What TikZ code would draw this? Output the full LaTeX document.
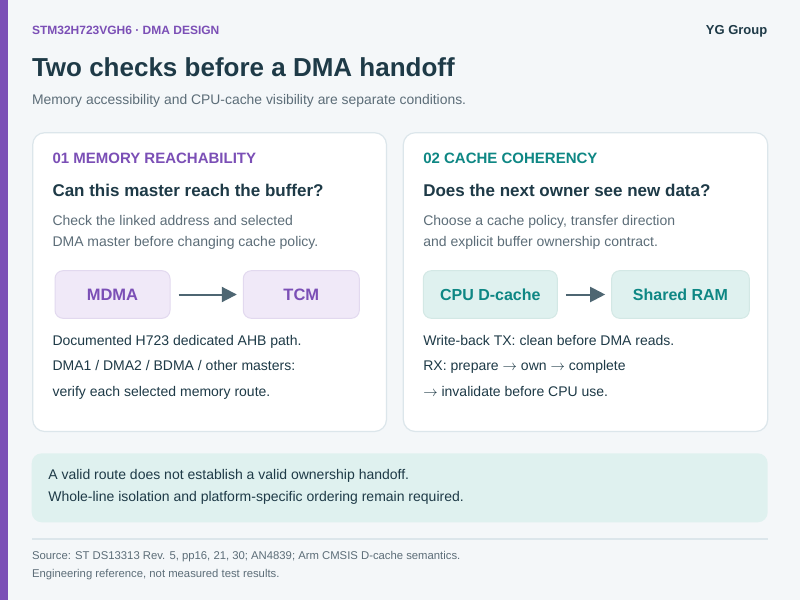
\documentclass[tikz,border=0pt]{standalone}
\usepackage{fontspec}
\setmainfont{Liberation Sans}
\usetikzlibrary{arrows.meta}
\definecolor{bgc}{HTML}{F4F7F9}
\definecolor{purp}{HTML}{7B4FB6}
\definecolor{tealc}{HTML}{0E8784}
\definecolor{darkc}{HTML}{1E3A47}
\definecolor{grayc}{HTML}{5C6D78}
\definecolor{cardline}{HTML}{DCE6EB}
\definecolor{purfill}{HTML}{F0E9F8}
\definecolor{purline}{HTML}{E2D9EF}
\definecolor{tealfill}{HTML}{DFF1EF}
\definecolor{tealline}{HTML}{D3E8E5}
\definecolor{arrowc}{HTML}{4E6672}
\newcommand{\fsz}[1]{\fontsize{#1}{#1}\selectfont}
\newcommand{\myarr}{\ensuremath{\rightarrow}}
\tikzset{
  txt/.style={anchor=base west, inner sep=0pt, outer sep=0pt},
  card/.style={fill=white, draw=cardline, line width=1.2pt, rounded corners=12pt},
  pbox/.style={fill=purfill, draw=purline, line width=1pt, rounded corners=8pt, minimum height=47.6pt, text=purp, font=\fsz{16.5}\bfseries, inner sep=0pt},
  tbox/.style={fill=tealfill, draw=tealline, line width=1pt, rounded corners=8pt, minimum height=47.6pt, text=tealc, font=\fsz{16}\bfseries, inner sep=0pt},
  flow/.style={draw=arrowc, line width=2pt, -{Triangle[length=15pt,width=15pt]}, shorten <=8pt, shorten >=6pt}
}
\begin{document}
\begin{tikzpicture}[x=1pt,y=-1pt]
\useasboundingbox (0,0) rectangle (800,600);
\fill[bgc] (0,0) rectangle (800,600);
\fill[purp] (0,0) rectangle (7.5,600);

% header
\node[txt, text=purp, font=\fsz{12}\bfseries] (kicker) at (32,34) {STM32H723VGH6 · DMA DESIGN};
\node[anchor=base east, inner sep=0pt, text=darkc, font=\fsz{13}\bfseries] (brand) at (767.5,34.5) {YG Group};
\node[txt, text=darkc, font=\fsz{26}\bfseries] (title) at (32,76) {Two checks before a DMA handoff};
\node[txt, text=grayc, font=\fsz{13.9}] (subtitle) at (32,104.3) {Memory accessibility and CPU-cache visibility are separate conditions.};

% cards
\draw[card] (32.7,132.7) rectangle (386.5,431.5);
\draw[card] (403.3,132.7) rectangle (767.7,431.5);

% card 1
\node[txt, text=purp, font=\fsz{15}\bfseries] (h1) at (52.5,163.3) {01 MEMORY REACHABILITY};
\node[txt, text=darkc, font=\fsz{17}\bfseries] (q1) at (52.5,196.7) {Can this master reach the buffer?};
\node[txt, text=grayc, font=\fsz{14}] (d1a) at (52.5,225) {Check the linked address and selected};
\node[txt, text=grayc, font=\fsz{14}] (d1b) at (52.5,246) {DMA master before changing cache policy.};
\node[pbox, minimum width=115pt] (mdma) at (112.5,294.5) {MDMA};
\node[pbox, minimum width=116pt] (tcm) at (301.3,294.5) {TCM};
\draw[flow] (mdma.east) -- (tcm.west);
\node[txt, text=darkc, font=\fsz{14}] (n1a) at (52.5,345.3) {Documented H723 dedicated AHB path.};
\node[txt, text=darkc, font=\fsz{14}] (n1b) at (52.5,370.5) {DMA1 / DMA2 / BDMA / other masters:};
\node[txt, text=darkc, font=\fsz{14}] (n1c) at (52.5,396) {verify each selected memory route.};

% card 2
\node[txt, text=tealc, font=\fsz{15}\bfseries] (h2) at (423.3,163.3) {02 CACHE COHERENCY};
\node[txt, text=darkc, font=\fsz{17}\bfseries] (q2) at (423.3,196.7) {Does the next owner see new data?};
\node[txt, text=grayc, font=\fsz{14}] (d2a) at (423.3,225) {Choose a cache policy, transfer direction};
\node[txt, text=grayc, font=\fsz{14}] (d2b) at (423.3,246) {and explicit buffer ownership contract.};
\node[tbox, minimum width=134pt] (cpu) at (490.3,294.5) {CPU D-cache};
\node[tbox, minimum width=137.6pt] (ram) at (680.5,294.5) {Shared RAM};
\draw[flow] (cpu.east) -- (ram.west);
\node[txt, text=darkc, font=\fsz{14}] (n2a) at (423.3,345.3) {Write-back TX: clean before DMA reads.};
\node[txt, text=darkc, font=\fsz{14}] (n2b) at (423.3,370.5) {RX: prepare \myarr{} own \myarr{} complete};
\node[txt, text=darkc, font=\fsz{14}] (n2c) at (423.3,396) {\myarr{} invalidate before CPU use.};

% note
\fill[tealfill, rounded corners=10pt] (31.7,453.3) rectangle (767.7,522.3);
\node[txt, text=darkc, font=\fsz{14}] (note1) at (48.3,479.3) {A valid route does not establish a valid ownership handoff.};
\node[txt, text=darkc, font=\fsz{14}] (note2) at (48.3,501.5) {Whole-line isolation and platform-specific ordering remain required.};

% footer
\draw[cardline, line width=1.5pt] (32,539) -- (768,539);
\node[txt, text=grayc, font=\fsz{11.3}] (src) at (32,559.3) {Source: ST DS13313 Rev. 5, pp16, 21, 30; AN4839; Arm CMSIS D-cache semantics.};
\node[txt, text=grayc, font=\fsz{11.3}] (eng) at (32,577.3) {Engineering reference, not measured test results.};
\end{tikzpicture}
\end{document}
